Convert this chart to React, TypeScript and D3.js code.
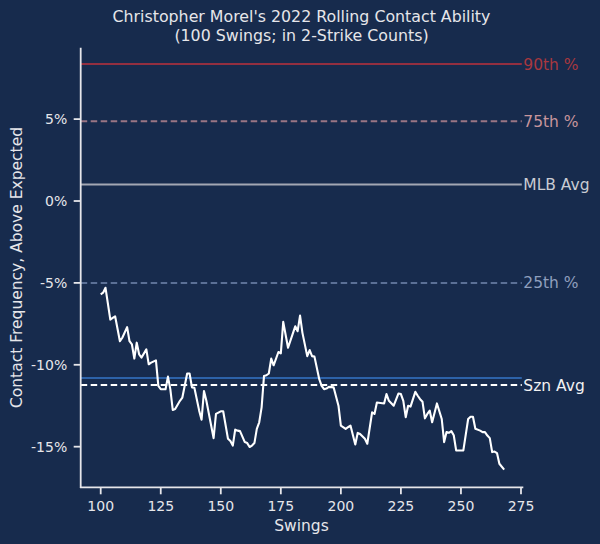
import React from "react";
import * as d3 from "d3";

const swings: number[] = [
  100, 101, 102, 104, 105, 106, 108, 109, 111, 112, 113, 114, 115, 116, 117, 119, 120, 121, 123, 124,
  125, 127, 128, 129, 130, 131, 133, 134, 136, 137, 138, 139, 141, 142, 143, 144, 147, 148, 150, 151,
  153, 154, 155, 156, 157, 158, 160, 161, 162, 163, 164, 165, 166, 167, 168, 169, 170, 171, 172, 174,
  175, 176, 178, 181, 182, 183, 184, 186, 187, 188, 189, 191, 192, 193, 194, 195, 197, 199, 200, 202,
  203, 204, 206, 207, 208, 210, 211, 213, 214, 215, 218, 219, 220, 222, 224, 225, 226, 227, 228, 229,
  231, 232, 233, 234, 235, 236, 237, 238, 240, 242, 243, 244, 245, 246, 247, 248, 251, 253, 254, 255,
  256, 258, 259, 260, 261, 262, 263, 264, 265, 266, 268,
];
const contact: number[] = [
  -5.7, -5.6, -5.3, -7.24, -7.14, -7.04, -8.56, -8.35, -7.7, -8.56, -8.76, -9.62, -8.65, -9.36, -9.56, -9.06, -9.97, -9.87, -9.73, -11.29,
  -11.49, -11.49, -10.72, -11.5, -12.76, -12.7, -12.2, -12.0, -10.53, -10.53, -11.38, -11.4, -12.8, -13.35, -11.6, -12.2, -14.48, -13.0, -12.84, -12.84,
  -14.52, -14.66, -14.93, -13.96, -14.02, -14.05, -14.72, -14.78, -15.02, -14.93, -14.78, -13.91, -13.51, -12.6, -10.68, -10.64, -10.53, -9.62, -10.03, -9.22,
  -9.3, -7.38, -8.96, -7.65, -7.95, -7.0, -8.05, -9.47, -9.1, -9.47, -9.5, -10.88, -11.29, -11.49, -11.45, -11.35, -11.38, -12.5, -13.71, -13.91,
  -13.81, -13.71, -14.87, -14.16, -14.22, -14.52, -14.82, -12.9, -13.0, -12.3, -12.36, -11.79, -12.2, -12.5, -11.75, -11.79, -12.2, -13.2, -12.5, -12.55,
  -11.65, -11.89, -12.1, -12.26, -13.27, -13.0, -12.8, -13.51, -12.36, -13.31, -14.72, -14.11, -14.15, -14.05, -14.3, -15.23, -15.23, -13.31, -13.17, -13.17,
  -13.91, -14.02, -14.11, -14.11, -14.32, -14.48, -15.33, -15.3, -15.39, -16.04, -16.4,
];

const refNames: string[] = ["90th %", "75th %", "MLB Avg", "25th %", "", "Szn Avg"];
const refValues: number[] = [8.36, 4.87, 1.0, -5.0, -10.81, -11.23];
const refColors: string[] = ["#932f40", "#9a7584", "#a3a7b3", "#5b7096", "#2d62a8", "#ffffff"];
const refLabelColors: string[] = ["#a8383f", "#c7959c", "#c9cbd3", "#8f9fbd", "#2d62a8", "#f2f2f2"];
const refDashed: boolean[] = [false, true, false, true, false, true];

const xTicks: number[] = [100, 125, 150, 175, 200, 225, 250, 275];
const yTicks: number[] = [-15, -10, -5, 0, 5];

const BG = "#172b4d";
const FG = "#e6e6ea";
const FONT = "DejaVu Sans, sans-serif";

export default function App() {
  const W = 600;
  const H = 544;
  const left = 80.7;
  const right = 523.3;
  const top = 47.7;
  const bottom = 487.3;

  const x = d3.scaleLinear().domain([91.67, 275.96]).range([left, right]);
  const y = d3.scaleLinear().domain([-17.48, 9.36]).range([bottom, top]);

  const points: [number, number][] = swings.map((s, i) => [s, contact[i]]);
  const line = d3
    .line<[number, number]>()
    .x((d) => x(d[0]))
    .y((d) => y(d[1]));

  return (
    <svg
      width={W}
      height={H}
      style={{ position: "fixed", left: 0, top: 0, display: "block" }}
      fontFamily={FONT}
    >
      <rect x={0} y={0} width={W} height={H} fill={BG} />
      <text x={301.5} y={22} textAnchor="middle" fill={FG} fontSize={15.8}>
        Christopher Morel's 2022 Rolling Contact Ability
      </text>
      <text x={301.5} y={40.5} textAnchor="middle" fill={FG} fontSize={15.8}>
        (100 Swings; in 2-Strike Counts)
      </text>

      {refValues.map((v, i) => (
        <g key={"ref" + i}>
          <line
            x1={left}
            x2={right - 1.5}
            y1={y(v)}
            y2={y(v)}
            stroke={refColors[i]}
            strokeWidth={2}
            strokeDasharray={refDashed[i] ? "6.5,3.5" : undefined}
          />
          {refNames[i] && (
            <text
              x={right}
              y={y(v)}
              dy="0.36em"
              fill={refLabelColors[i]}
              fontSize={15.5}
            >
              {refNames[i]}
            </text>
          )}
        </g>
      ))}

      <path
        d={line(points) || ""}
        fill="none"
        stroke="#ffffff"
        strokeWidth={2.1}
        strokeLinejoin="round"
      />

      <line x1={left} x2={left} y1={top} y2={bottom + 0.75} stroke={FG} strokeWidth={1.8} />
      <line x1={left - 0.75} x2={right} y1={bottom} y2={bottom} stroke={FG} strokeWidth={1.8} />

      {yTicks.map((t) => (
        <g key={"yt" + t}>
          <line x1={left - 7} x2={left} y1={y(t)} y2={y(t)} stroke={FG} strokeWidth={1.8} />
          <text x={left - 13.5} y={y(t)} dy="0.36em" textAnchor="end" fill={FG} fontSize={14}>
            {`${t}%`}
          </text>
        </g>
      ))}
      {xTicks.map((t) => (
        <g key={"xt" + t}>
          <line x1={x(t)} x2={x(t)} y1={bottom} y2={bottom + 7} stroke={FG} strokeWidth={1.8} />
          <text x={x(t)} y={510.5} textAnchor="middle" fill={FG} fontSize={14}>
            {t}
          </text>
        </g>
      ))}

      <text x={301.5} y={531} textAnchor="middle" fill={FG} fontSize={15.5}>
        Swings
      </text>
      <text
        transform={`translate(21.5, ${(top + bottom) / 2}) rotate(-90)`}
        textAnchor="middle"
        fill={FG}
        fontSize={15.5}
      >
        Contact Frequency, Above Expected
      </text>
    </svg>
  );
}
